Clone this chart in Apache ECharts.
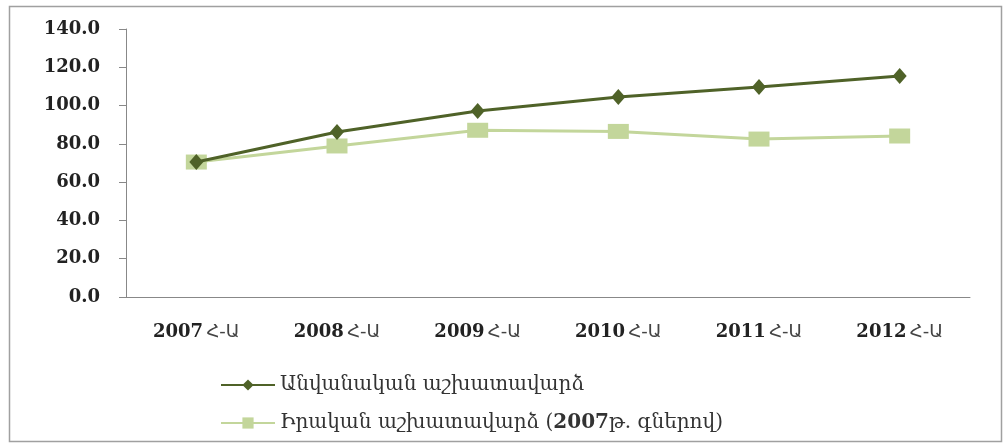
<!DOCTYPE html>
<html><head><meta charset="utf-8">
<script src="https://cdn.jsdelivr.net/npm/echarts@6/dist/echarts.min.js"></script>
<style>html,body{margin:0;padding:0;background:#fff}#c{width:1008px;height:448px}</style>
</head><body><div id="c"></div>
<script>
const years = ['2007','2008','2009','2010','2011','2012'];
const catSuffix = 'Հ-Ա';
const seriesNames = ['Անվանական աշխատավարձ', 'Իրական աշխատավարձ (2007թ. գներով)'];
const nominal = [70.5, 86.2, 97.2, 104.5, 109.7, 115.5];
const real = [70.5, 78.9, 87.1, 86.5, 82.5, 84.1];
const yTicks = [0, 20, 40, 60, 80, 100, 120, 140];

const chart = echarts.init(document.getElementById('c'));
chart.setOption({
  animation: false,
  graphic: [{type:'rect', shape:{x:9.5,y:6.5,width:992,height:435}, style:{fill:'none', stroke:'#a0a0a0', lineWidth:1.5}}],
  grid: {left:126, right:38, top:29, bottom:151},
  xAxis: {
    type:'category', data: years, boundaryGap:true,
    axisLine:{lineStyle:{color:'#888', width:1}},
    axisTick:{show:false},
    axisLabel:{margin:26, formatter: v => '{b|' + v + '} {a|' + catSuffix + '}',
      rich:{b:{fontFamily:'DejaVu Serif', fontWeight:'bold', fontSize:18, color:'#222'},
            a:{fontFamily:'DejaVu Sans', fontSize:18, color:'#444'}}}
  },
  yAxis: {
    type:'value', min:yTicks[0], max:yTicks[yTicks.length-1], interval:20,
    splitLine:{show:false},
    axisLine:{show:true, lineStyle:{color:'#888'}},
    axisTick:{show:true, inside:false, length:7, lineStyle:{color:'#888'}},
    axisLabel:{margin:26, formatter: v => v.toFixed(1),
      fontFamily:'DejaVu Serif', fontWeight:'bold', fontSize:18, color:'#222'}
  },
  legend: {
    orient:'vertical', left:215, top:370, itemWidth:54, itemHeight:14, itemGap:18,
    data: seriesNames,
    formatter: n => n === seriesNames[1] ? '{n|Իրական աշխատավարձ (}{b|2007}{n|թ. գներով)}' : '{n|' + n + '}',
    textStyle:{rich:{n:{fontFamily:'DejaVu Serif', fontSize:20, color:'#333'},
                     b:{fontFamily:'DejaVu Serif', fontWeight:'bold', fontSize:20, color:'#333'}}}
  },
  series: [
    {name:seriesNames[0], type:'line', data:nominal, z:3,
     symbol:'diamond', symbolSize:[14,16],
     lineStyle:{color:'#4F6228', width:3}, itemStyle:{color:'#4F6228'}},
    {name:seriesNames[1], type:'line', data:real, z:2,
     symbol:'rect', symbolSize:[21,15],
     lineStyle:{color:'#C3D69B', width:3}, itemStyle:{color:'#C3D69B'}}
  ]
});
</script></body></html>
